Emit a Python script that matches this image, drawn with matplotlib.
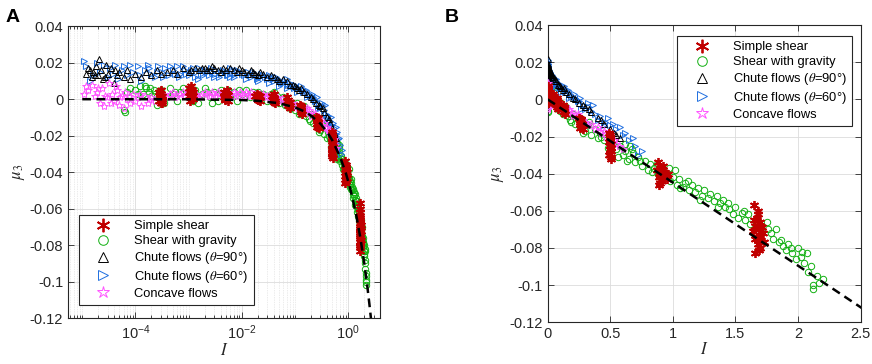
import numpy as np
import matplotlib
matplotlib.use("Agg")
import matplotlib.pyplot as plt
from matplotlib.ticker import FixedLocator, NullFormatter, LogLocator

plt.rcParams["font.family"] = ["Liberation Sans", "DejaVu Sans"]
plt.rcParams["mathtext.fontset"] = "stix"

# ---- data: (I, mu3) ----
shear_I = [2.8e-4, 3.0e-4, 3.2e-4, 2.9e-4, 3.1e-4, 3.0e-4, 2.8e-4, 3.2e-4, 3.0e-4, 2.9e-4,
           1.0e-3, 1.1e-3, 1.2e-3, 1.05e-3, 1.15e-3, 1.1e-3, 1.0e-3, 1.2e-3, 1.1e-3, 1.05e-3,
           4.6e-3, 5.0e-3, 5.4e-3, 4.8e-3, 5.2e-3, 5.0e-3, 4.6e-3, 5.4e-3,
           0.018, 0.02, 0.022, 0.019, 0.021, 0.02, 0.022,
           0.037, 0.04, 0.043, 0.039, 0.041, 0.042, 0.038,
           0.07, 0.075, 0.08, 0.072, 0.078, 0.076, 0.08,
           0.125, 0.13, 0.135, 0.128, 0.132, 0.13,
           0.25, 0.26, 0.27, 0.28, 0.265, 0.275, 0.27, 0.26,
           0.49, 0.5, 0.51, 0.5, 0.49, 0.51, 0.5, 0.495, 0.505, 0.5, 0.51, 0.49,
           0.88, 0.9, 0.92, 0.89, 0.91, 0.93, 0.9, 0.95, 0.87, 0.92, 0.96, 0.9,
           1.65, 1.68, 1.7, 1.66, 1.69, 1.72, 1.67, 1.7, 1.68, 1.66, 1.71, 1.65, 1.69, 1.73,
           1.67, 1.7, 1.64]
shear_mu = [0.004, 0.001, -0.002, 0.003, 0.0, 0.005, -0.001, 0.002, -0.002, 0.0015,
            0.006, 0.003, 0.0, -0.001, 0.005, 0.007, 0.002, 0.004, 0.0005, 0.0045,
            0.004, 0.002, -0.001, 0.0, 0.005, 0.003, 0.001, 0.0025,
            0.002, 0.0, -0.001, 0.003, 0.001, -0.0005, 0.0015,
            0.002, 0.0, -0.002, 0.001, 0.003, -0.001, -0.0005,
            -0.001, -0.003, -0.005, 0.001, -0.002, -0.004, -0.0015,
            -0.003, -0.005, -0.008, -0.006, -0.004, -0.007,
            -0.010, -0.012, -0.014, -0.016, -0.011, -0.013, -0.015, -0.0135,
            -0.018, -0.021, -0.024, -0.027, -0.030, -0.032, -0.025, -0.022, -0.028, -0.019, -0.026, -0.023,
            -0.034, -0.037, -0.040, -0.042, -0.044, -0.039, -0.041, -0.043, -0.038, -0.036, -0.040, -0.045,
            -0.057, -0.062, -0.066, -0.068, -0.070, -0.072, -0.074, -0.076, -0.078, -0.083, -0.069, -0.065,
            -0.073, -0.077, -0.064, -0.080, -0.071]
shear_more = [(2.9e-4, 0.0035), (3.1e-4, -0.001), (1.1e-3, 0.0055), (1.15e-3, 0.001), (5.1e-3, 0.0035),
              (4.9e-3, -0.0005), (0.02, 0.0025), (0.04, -0.0015), (0.074, -0.0005), (0.13, -0.0045),
              (0.27, -0.0105), (0.26, -0.0155), (0.5, -0.0205), (0.5, -0.0295), (0.505, -0.031),
              (0.91, -0.038), (0.89, -0.046), (1.68, -0.060), (1.7, -0.068), (1.66, -0.075),
              (1.69, -0.081)]

gravity_I = [6e-5, 6.5e-5, 7e-5, 8e-5, 1e-4, 1.2e-4, 1.4e-4, 1.6e-4, 1.8e-4, 2e-4, 2.2e-4, 2.5e-4,
             2.8e-4, 3.5e-4, 4e-4, 5e-4, 6e-4, 7e-4, 8e-4, 9e-4, 1.3e-3, 1.5e-3, 1.8e-3, 2e-3,
             2.5e-3, 3e-3, 3.5e-3, 4e-3, 6e-3, 7e-3, 8e-3, 0.01, 0.012, 0.014, 0.016, 0.025,
             0.03, 0.035, 0.045, 0.05, 0.055, 0.06, 0.065, 0.09, 0.1, 0.11, 0.12, 0.14, 0.16,
             0.18, 0.2, 0.22, 0.24, 0.26, 0.3, 0.32, 0.35, 0.38, 0.4, 0.42, 0.45, 0.48, 0.52,
             0.55, 0.58, 0.6, 0.62, 0.65, 0.68, 0.7, 0.72, 0.75, 0.78, 0.8, 0.82, 0.85, 0.88,
             0.95, 0.98, 1.0, 1.03, 1.05, 1.08, 1.1, 1.13, 1.15, 1.18, 1.2, 1.23, 1.25, 1.28,
             1.3, 1.33, 1.35, 1.38, 1.4, 1.42, 1.45, 1.48, 1.5, 1.52, 1.55, 1.58, 1.6, 1.62,
             1.75, 1.78, 1.8, 1.82, 1.85, 1.88, 1.9, 1.92, 1.95, 1.98, 2.0, 2.03, 2.05, 2.08,
             2.1, 2.12, 2.12, 2.15, 2.2, 0.62, 0.66, 0.97, 1.02]
gravity_mu = [-0.006, -0.007, 0.004, 0.006, 0.005, 0.007, 0.003, 0.006, 0.004, 0.002, 0.005, -0.003,
              0.002, -0.002, 0.001, 0.003, -0.001, 0.004, 0.006, 0.002, 0.005, -0.002, 0.003, 0.006,
              0.001, 0.004, -0.001, 0.005, 0.002, 0.004, -0.001, 0.003, 0.005, 0.001, 0.004, 0.003,
              -0.001, 0.003, 0.002, -0.002, 0.0, 0.001, -0.003, -0.004, -0.006, -0.002, -0.008, -0.005, -0.009,
              -0.011, -0.008, -0.013, -0.010, -0.015, -0.017, -0.014, -0.019, -0.016, -0.021, -0.018, -0.022, -0.026, -0.024,
              -0.027, -0.025, -0.030, -0.028, -0.032, -0.029, -0.034, -0.031, -0.036, -0.033, -0.038, -0.035, -0.037, -0.040,
              -0.041, -0.044, -0.042, -0.046, -0.043, -0.047, -0.045, -0.049, -0.046, -0.050, -0.048, -0.052, -0.049, -0.053,
              -0.051, -0.055, -0.052, -0.056, -0.054, -0.058, -0.059, -0.062, -0.058, -0.064, -0.061, -0.065, -0.062, -0.067,
              -0.066, -0.072, -0.075, -0.070, -0.077, -0.079, -0.081, -0.078, -0.083, -0.086, -0.080, -0.082, -0.088, -0.093,
              -0.090, -0.100, -0.102, -0.095, -0.097, -0.024, -0.025, -0.037, -0.038]
gravity_more = [(1.1e-4, 0.003), (1.5e-4, 0.007), (1.9e-4, 0.006), (2.3e-4, 0.003), (3e-4, 0.005),
                (4.5e-4, 0.006), (5.5e-4, 0.004), (1.1e-3, 0.004), (1.2e-3, -0.001), (2.2e-3, 0.004),
                (2.8e-3, -0.002), (4.5e-3, 0.003), (5.5e-3, 0.005), (9e-3, 0.005), (0.02, 0.004),
                (0.022, 0.0), (0.04, 0.004), (0.07, -0.001), (0.08, -0.005), (0.13, -0.007),
                (0.15, -0.004), (0.19, -0.012), (0.28, -0.018), (0.33, -0.012), (0.43, -0.020),
                (0.5, -0.027), (0.56, -0.031), (0.63, -0.033), (0.67, -0.027), (0.74, -0.033),
                (0.83, -0.039), (0.87, -0.035), (0.92, -0.042), (1.06, -0.048), (1.12, -0.044),
                (1.22, -0.054), (1.36, -0.058), (1.44, -0.056), (1.57, -0.060), (1.76, -0.070),
                (1.86, -0.076), (1.94, -0.080), (2.02, -0.085), (2.07, -0.083), (2.17, -0.099)]

chute90_I = [1.2e-5, 1.3e-5, 1.5e-5, 1.6e-5, 1.8e-5, 2e-5, 2.1e-5, 2.3e-5, 2.5e-5, 2.8e-5, 3e-5, 3.5e-5,
             4e-5, 4.5e-5, 5e-5, 6e-5, 7e-5, 8e-5, 1e-4, 1.3e-4, 1.6e-4, 2e-4, 2.5e-4, 3e-4, 4e-4,
             5e-4, 6e-4, 8e-4, 1e-3, 1.3e-3, 1.6e-3, 2e-3, 2.5e-3, 3e-3, 4e-3, 5e-3, 6e-3, 8e-3,
             0.01, 0.013, 0.016, 0.02, 0.025, 0.03, 0.04, 0.05, 0.06, 0.08, 0.1, 0.12, 0.15, 0.2,
             0.25, 0.3, 0.35, 0.4, 0.45, 0.5, 0.55, 0.58]
chute90_mu = [0.014, 0.017, 0.012, 0.015, 0.018, 0.013, 0.022, 0.016, 0.011, 0.019, 0.014, 0.017,
              0.009, 0.013, 0.015, 0.012, 0.016, 0.011, 0.014, 0.012, 0.015, 0.013, 0.016, 0.014, 0.015,
              0.016, 0.014, 0.017, 0.015, 0.017, 0.016, 0.017, 0.016, 0.017, 0.015, 0.016, 0.017, 0.015,
              0.016, 0.014, 0.015, 0.013, 0.014, 0.012, 0.012, 0.010, 0.011, 0.008, 0.007, 0.005, 0.004, 0.001,
              -0.002, -0.004, -0.007, -0.010, -0.013, -0.016, -0.019, -0.021]
chute90_more = [(1.4e-5, 0.016), (1.7e-5, 0.013), (2.7e-5, 0.012), (4.2e-5, 0.016), (1.1e-3, 0.016),
                (1.8e-3, 0.017), (2.2e-3, 0.016), (2.8e-3, 0.018), (3.5e-3, 0.016), (4.5e-3, 0.017),
                (7e-3, 0.016), (9e-3, 0.017), (0.011, 0.015), (0.015, 0.016), (0.018, 0.014),
                (0.022, 0.015), (0.035, 0.013), (0.045, 0.011), (0.07, 0.010), (0.09, 0.008),
                (0.11, 0.006), (0.13, 0.006), (0.17, 0.003), (0.22, 0.0), (0.28, -0.003),
                (0.33, -0.005), (0.43, -0.011), (0.53, -0.018)]

chute60_I = [1.1e-5, 1.2e-5, 1.4e-5, 1.6e-5, 1.9e-5, 2.2e-5, 2.6e-5, 3e-5, 3.3e-5, 3.8e-5, 4.2e-5, 4.8e-5,
             5.5e-5, 6.2e-5, 7e-5, 8e-5, 9e-5, 1.1e-4, 1.3e-4, 1.5e-4, 1.7e-4, 2e-4, 2.3e-4, 2.7e-4,
             3.1e-4, 3.6e-4, 4.2e-4, 5e-4, 6e-4, 7e-4, 8.5e-4, 1e-3, 1.2e-3, 1.4e-3, 1.7e-3, 2e-3,
             2.4e-3, 2.8e-3, 3.3e-3, 4e-3, 4.8e-3, 5.6e-3, 6.5e-3, 7.5e-3, 9e-3, 0.011, 0.013, 0.015,
             0.018, 0.021, 0.025, 0.03, 0.035, 0.04, 0.047, 0.055, 0.065, 0.075, 0.09, 0.1, 0.12,
             0.14, 0.16, 0.19, 0.22, 0.25, 0.28, 0.32, 0.35, 0.38, 0.42, 0.46, 0.5, 0.55, 0.6, 0.65,
             0.7, 0.75, 0.72, 1.5e-3, 3e-3, 6e-3, 0.012, 0.02, 0.033, 0.05, 0.07, 0.11, 0.17, 0.24,
             0.3, 0.27, 0.4, 0.45]
chute60_mu = [0.021, 0.018, 0.010, 0.013, 0.020, 0.015, 0.019, 0.012, 0.017, 0.014, 0.019, 0.011,
              0.016, 0.018, 0.013, 0.019, 0.015, 0.018, 0.010, 0.016, 0.019, 0.014, 0.012, 0.018,
              0.015, 0.017, 0.013, 0.016, 0.018, 0.014, 0.016, 0.013, 0.017, 0.015, 0.014, 0.016,
              0.013, 0.015, 0.016, 0.014, 0.015, 0.013, 0.016, 0.014, 0.015, 0.013, 0.015, 0.012,
              0.014, 0.012, 0.013, 0.011, 0.012, 0.010, 0.011, 0.009, 0.010, 0.008, 0.007, 0.008, 0.006,
              0.004, 0.005, 0.002, 0.001, -0.001, -0.003, -0.002, -0.006, -0.008, -0.009, -0.012, -0.014, -0.016, -0.019, -0.022,
              -0.025, -0.028, -0.030, 0.011, 0.012, 0.012, 0.011, 0.010, 0.009, 0.007, 0.006, 0.004, 0.001, -0.001,
              -0.005, -0.005, -0.011, -0.014]
chute60_more = [(1.2e-4, 0.013), (1.8e-4, 0.017), (2.5e-4, 0.015), (3.3e-4, 0.012), (4.5e-4, 0.018),
                (5.5e-4, 0.014), (6.5e-4, 0.012), (7.8e-4, 0.018), (9e-4, 0.014), (1.1e-3, 0.016),
                (1.3e-3, 0.012), (1.6e-3, 0.017), (1.9e-3, 0.013), (2.2e-3, 0.015), (2.6e-3, 0.017),
                (3.1e-3, 0.014), (3.7e-3, 0.012), (4.4e-3, 0.016), (5.2e-3, 0.013), (6e-3, 0.017),
                (7e-3, 0.012), (8.2e-3, 0.016), (0.01, 0.014), (0.014, 0.013), (0.016, 0.015),
                (0.019, 0.011), (0.023, 0.014), (0.027, 0.012), (0.032, 0.013), (0.038, 0.011),
                (0.044, 0.012), (0.052, 0.010), (0.06, 0.009), (0.07, 0.011), (0.08, 0.009),
                (0.095, 0.006), (0.13, 0.007), (0.15, 0.005), (0.18, 0.003), (0.21, 0.003),
                (0.23, 0.0), (0.26, 0.001), (0.33, -0.004), (0.36, -0.003), (0.48, -0.010),
                (0.52, -0.013), (0.58, -0.015), (0.62, -0.018), (0.68, -0.021)]

concave_I = [1.1e-5, 1.3e-5, 1.5e-5, 1.7e-5, 1.9e-5, 2.2e-5, 2.4e-5, 2.6e-5, 2.9e-5, 3.2e-5, 3.6e-5, 4e-5,
             4.5e-5, 5e-5, 5.5e-5, 6e-5, 6.5e-5, 7e-5, 8e-5, 9e-5, 1e-4, 1.1e-4, 1.3e-4, 1.5e-4,
             1.7e-4, 2e-4, 2.3e-4, 3.5e-4, 4.5e-4, 5.5e-4, 7e-4, 8.5e-4, 1.4e-3, 1.7e-3, 2e-3, 2.4e-3,
             2.9e-3, 3.5e-3, 4.2e-3, 6e-3, 7e-3, 8.5e-3, 0.01, 0.012, 0.014, 0.017, 0.025, 0.028,
             0.032, 0.036, 0.046, 0.052, 0.058, 0.065, 0.085, 0.095, 0.105, 0.115, 0.145, 0.16, 0.18,
             0.2, 0.22, 0.3, 0.32, 0.35, 0.38, 0.4, 0.43, 0.45, 0.47, 0.53, 0.55, 0.57, 0.6]
concave_mu = [0.003, 0.005, 0.008, 0.002, 0.004, -0.002, 0.006, -0.004, 0.001, 0.009, 0.003, -0.001,
              0.005, -0.003, 0.002, -0.005, 0.004, 0.0, -0.002, 0.003, -0.001, 0.001, -0.004, 0.002,
              -0.002, 0.001, -0.001, 0.002, 0.003, 0.001, 0.003, 0.002, 0.003, 0.002, 0.004, 0.002,
              0.003, 0.004, 0.002, 0.003, 0.004, 0.002, 0.003, 0.004, 0.002, 0.003, 0.003, 0.001,
              0.002, 0.0, 0.001, -0.001, 0.0, -0.002, -0.002, -0.004, -0.003, -0.005, -0.005, -0.007, -0.006,
              -0.009, -0.008, -0.012, -0.014, -0.013, -0.016, -0.015, -0.018, -0.017, -0.020, -0.022, -0.024, -0.025, -0.027]
concave_more = [(1.2e-5, 0.007), (2e-5, 0.006), (2.7e-5, 0.002), (3.4e-5, -0.002), (4.3e-5, 0.007),
                (5.2e-5, 0.001), (7.5e-5, 0.002), (1.2e-4, 0.003), (1.8e-4, 0.0), (3e-4, 0.003),
                (4e-4, 0.001), (5e-4, 0.004), (6e-4, 0.002), (8e-4, 0.004), (1e-3, 0.002),
                (1.2e-3, 0.004), (1.5e-3, 0.001), (2.2e-3, 0.003), (2.7e-3, 0.004), (3.2e-3, 0.002),
                (3.8e-3, 0.003), (4.6e-3, 0.004), (5.2e-3, 0.003), (6.5e-3, 0.002), (7.8e-3, 0.003),
                (9.2e-3, 0.004), (0.011, 0.002), (0.013, 0.003), (0.015, 0.004), (0.019, 0.002),
                (0.022, 0.003), (0.03, 0.002), (0.04, 0.001), (0.07, -0.001), (0.075, -0.003),
                (0.08, -0.002), (0.125, -0.004), (0.13, -0.006), (0.17, -0.005), (0.24, -0.008),
                (0.26, -0.010), (0.28, -0.011), (0.42, -0.017), (0.5, -0.021), (0.52, -0.023)]

# dashed fit line
fit_I = [1e-5, 1e-3, 0.01, 0.02, 0.05, 0.1, 0.15, 0.2, 0.3, 0.4, 0.5, 0.7, 0.9, 1.1, 1.4, 1.7,
         2.0, 2.3, 2.5, 2.7]
fit_mu = [0.0, -0.00004, -0.00045, -0.0009, -0.0022, -0.0045, -0.0067, -0.009, -0.0134, -0.0179,
          -0.0224, -0.0314, -0.0403, -0.0493, -0.0627, -0.0762, -0.0896, -0.103, -0.112, -0.121]

y_ticks = [0.04, 0.02, 0, -0.02, -0.04, -0.06, -0.08, -0.1, -0.12]
y_labels = ["0.04", "0.02", "0", "-0.02", "-0.04", "-0.06", "-0.08", "-0.1", "-0.12"]


def join(xs, ys, more):
    return list(xs) + [p[0] for p in more], list(ys) + [p[1] for p in more]


s_x, s_y = join(shear_I, shear_mu, shear_more)
g_x, g_y = join(gravity_I, gravity_mu, gravity_more)
c90_x, c90_y = join(chute90_I, chute90_mu, chute90_more)
c60_x, c60_y = join(chute60_I, chute60_mu, chute60_more)
cc_x, cc_y = join(concave_I, concave_mu, concave_more)

series = [
    ("Simple shear", s_x, s_y, (6, 2, 0), "#c00000", 6.5, 1.3, 6),
    ("Shear with gravity", g_x, g_y, "o", "#12b012", 4.6, 0.7, 2),
    (r"Chute flows ($\theta$=90°)", c90_x, c90_y, "^", "black", 5, 0.7, 4),
    (r"Chute flows ($\theta$=60°)", c60_x, c60_y, ">", "#1f6fe0", 5, 0.7, 3),
    ("Concave flows", cc_x, cc_y, "*", "#ff55ff", 6, 0.7, 5),
]

dark = "#262626"
leg_kw = dict(fontsize=9.3, frameon=True, fancybox=False, framealpha=1, edgecolor=dark,
              handlelength=3.0, handletextpad=0.9, labelspacing=0.22, borderpad=0.4,
              numpoints=1, markerscale=1.5, borderaxespad=0)

fig = plt.figure(figsize=(8.72, 3.64), dpi=100)
axA = fig.add_axes([0.078, 0.126, 0.358, 0.802])
axB = fig.add_axes([0.628, 0.115, 0.359, 0.816])

for ax in (axA, axB):
    for label, xs, ys, mk, col, ms, mew, z in series:
        ax.plot(xs, ys, linestyle="none", marker=mk, markersize=ms, markeredgewidth=mew,
                markeredgecolor=col, markerfacecolor="none", label=label, zorder=z)
    ax.plot(fit_I, fit_mu, color="black", lw=1.8, linestyle=(0, (3.5, 2.2)), zorder=7)
    ax.set_ylim(-0.12, 0.04)
    ax.set_yticks(y_ticks)
    ax.set_yticklabels(y_labels)
    ax.tick_params(which="both", direction="in", top=True, right=True, colors=dark,
                   labelsize=10.5, length=4, width=0.6)
    ax.tick_params(which="minor", length=2)
    for sp in ax.spines.values():
        sp.set_color(dark)
        sp.set_linewidth(0.8)
    ax.grid(True, which="major", color="#dcdcdc", lw=0.6)
    ax.set_axisbelow(True)
    ax.set_ylabel(r"$\mu_3$", fontsize=12, color=dark, labelpad=2)
    ax.set_xlabel(r"$I$", fontsize=12, color=dark, labelpad=0)

# panel A: log axis
axA.set_xscale("log")
axA.set_xlim(5.4e-6, 4.0)
axA.xaxis.set_major_locator(FixedLocator([1e-4, 1e-2, 1e0]))
axA.xaxis.set_minor_locator(LogLocator(base=10, subs=np.arange(1, 10), numticks=20))
axA.xaxis.set_minor_formatter(NullFormatter())
axA.set_xticklabels([r"$\mathregular{10^{-4}}$", r"$\mathregular{10^{-2}}$", r"$\mathregular{10^{0}}$"])
axA.grid(True, which="minor", axis="x", color="#d8d8d8", lw=0.5, linestyle=(0, (1, 1.5)))
axA.legend(loc="lower left", bbox_to_anchor=(0.035, 0.045), **leg_kw)

# panel B: linear axis
axB.set_xlim(0, 2.5)
axB.set_xticks([0, 0.5, 1, 1.5, 2, 2.5])
axB.set_xticklabels(["0", "0.5", "1", "1.5", "2", "2.5"])
axB.legend(loc="upper right", bbox_to_anchor=(0.971, 0.963), **leg_kw)

for leg_ax in (axA, axB):
    leg = leg_ax.get_legend()
    leg.get_frame().set_linewidth(0.8)
    leg.set_zorder(10)

fig.text(0.006, 0.975, "A", fontsize=14, fontweight="bold", va="top", ha="left")
fig.text(0.51, 0.975, "B", fontsize=14, fontweight="bold", va="top", ha="left")

fig.savefig("out.png", dpi=100)
